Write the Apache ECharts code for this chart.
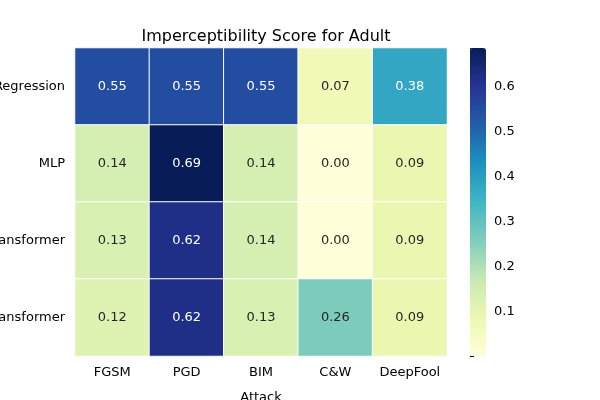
<!DOCTYPE html>
<html><head><meta charset="utf-8">
<script src="https://cdn.jsdelivr.net/npm/echarts@6/dist/echarts.min.js"></script>
<style>html,body{margin:0;padding:0;background:#fff}#c{width:600px;height:400px}</style>
</head><body><div id="c"></div>
<script>
const attacks = ['FGSM','PGD','BIM','C&W','DeepFool'];
const models = ['Logistic Regression','MLP','TabTransformer','FT-Transformer'];
const rowLR = [0.55,0.55,0.55,0.07,0.38];
const rowMLP = [0.14,0.69,0.14,0.00,0.09];
const rowTab = [0.13,0.62,0.14,0.00,0.09];
const rowFT = [0.12,0.62,0.13,0.26,0.09];
const rows = [rowLR,rowMLP,rowTab,rowFT];
const colorTicks = [0.1,0.2,0.3,0.4,0.5,0.6];
const vmin = 0, vmax = 0.687;
const data = [];
rows.forEach((r,yi)=>r.forEach((v,xi)=>{
  data.push({value:[xi,yi,v],label:{color: v>0.35?'#ffffff':'#262626'}});
}));
const chart = echarts.init(document.getElementById('c'));
chart.setOption({
  animation:false,
  title:{text:'Imperceptibility Score for Adult',left:261,top:24,textAlign:'center',
    textStyle:{fontFamily:'DejaVu Sans',fontSize:16,fontWeight:'normal',color:'#000'}},
  grid:[{left:75,top:48,width:372,height:308,containLabel:false,outerBoundsMode:'none'},
        {left:470,top:48,width:16,height:308,containLabel:false,outerBoundsMode:'none'}],
  xAxis:[{type:'category',data:attacks,gridIndex:0,name:'Attack',nameLocation:'middle',nameGap:35,
    nameTextStyle:{fontFamily:'DejaVu Sans',fontSize:13,color:'#000'},
    axisLine:{show:false},axisTick:{length:4,lineStyle:{color:'#000'},alignWithLabel:true,interval:0},
    axisLabel:{fontFamily:'DejaVu Sans',fontSize:13,color:'#000',margin:10,interval:0},splitLine:{show:false}},
    {type:'value',gridIndex:1,show:false}],
  yAxis:[{type:'category',data:models,inverse:true,gridIndex:0,
    axisLine:{show:false},axisTick:{length:4,lineStyle:{color:'#000'},alignWithLabel:true,interval:0},
    axisLabel:{fontFamily:'DejaVu Sans',fontSize:13,color:'#000',margin:10,interval:0},splitLine:{show:false}},
    {type:'value',gridIndex:1,position:'right',min:vmin,max:vmax,interval:0.1,
    axisLine:{show:false},axisTick:{show:true,length:4,lineStyle:{color:'#000'}},
    axisLabel:{fontFamily:'DejaVu Sans',fontSize:13,color:'#000',margin:8,
      formatter:v=>colorTicks.some(t=>Math.abs(t-v)<1e-6)?v.toFixed(1):''},
    splitLine:{show:false}}],
  visualMap:{type:'continuous',min:vmin,max:vmax,seriesIndex:0,calculable:false,
    left:470,top:48,itemWidth:16,itemHeight:308,padding:0,text:null,showLabel:false,
    inRange:{color:['#ffffd9','#edf8b1','#c7e9b4','#7fcdbb','#41b6c4','#1d91c0','#225ea8','#253494','#081d58']}},
  series:[{type:'heatmap',xAxisIndex:0,yAxisIndex:0,data:data,
    itemStyle:{borderColor:'#fff',borderWidth:1},
    label:{show:true,fontFamily:'DejaVu Sans',fontSize:13,formatter:p=>p.value[2].toFixed(2)},
    emphasis:{disabled:true}}]
});
</script></body></html>
